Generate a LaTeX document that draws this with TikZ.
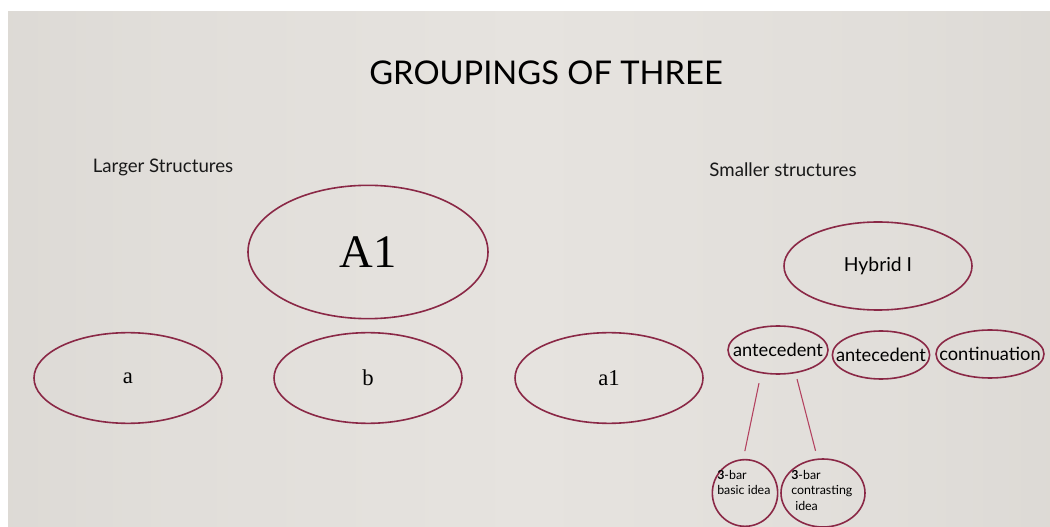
\documentclass[tikz,border=0pt]{standalone}
\usepackage{fontspec}
\setmainfont{Lato}
\newfontfamily\serifnum{Liberation Serif}
\usetikzlibrary{shapes.geometric}
\definecolor{slideedge}{HTML}{CBC8C3}
\definecolor{slidemid}{HTML}{E6E3DF}
\definecolor{ringred}{HTML}{8A2846}
\definecolor{stemred}{HTML}{B3415F}
% soft left-to-right light falloff of the slide
\pgfdeclarehorizontalshading{slidefade}{100bp}{
  color(0bp)=(slideedge);
  color(15bp)=(slideedge!55!slidemid);
  color(32bp)=(slideedge!20!slidemid);
  color(50bp)=(slidemid);
  color(68bp)=(slideedge!20!slidemid);
  color(85bp)=(slideedge!55!slidemid);
  color(100bp)=(slideedge)}
\tikzset{
  ring/.style={ellipse, draw=ringred, line width=1.2pt, inner sep=0pt},
  stem/.style={draw=stemred, line width=0.8pt},
  heading/.style={font=\fontsize{24.5}{28}\selectfont, text=black},
  side/.style={font=\fontsize{14}{17}\selectfont, text=black!90},
  serifbig/.style={font=\serifnum\fontsize{17}{20}\selectfont},
  labtext/.style={font=\fontsize{13.7}{16}\selectfont},
  tinytext/.style={font=\fontsize{9.3}{11.5}\selectfont, align=left, anchor=north west, inner sep=0pt}
}
\begin{document}
\begin{tikzpicture}[x=0.75pt,y=-0.75pt]
\useasboundingbox (0,0) rectangle (1050,527);
% slide background
\fill[white] (0,0) rectangle (1050,527);
\shade[shading=slidefade] (8,12) rectangle (1050,527);

% headings
\node[heading] (title) at (546,73) {GROUPINGS OF THREE};
\node[side] (larger) at (163,167) {Larger Structures};
\node[side] (smaller) at (783,170) {Smaller structures};

% larger structures
\node[ring, minimum width=180pt, minimum height=100pt,
      label={[font=\serifnum\fontsize{35}{40}\selectfont]center:A1}] (A1) at (368,252) {};
\node[ring, minimum width=141pt, minimum height=68pt,
      label={[serifbig]center:a}] (a) at (128,378) {};
\node[ring, minimum width=141pt, minimum height=68pt,
      label={[serifbig]center:b}] (b) at (368,378) {};
\node[ring, minimum width=141pt, minimum height=68pt,
      label={[serifbig]center:a1}] (a1) at (609,378) {};

% smaller structures
\node[ring, minimum width=141pt, minimum height=66pt,
      label={[font=\fontsize{14.5}{17}\selectfont]center:Hybrid I}] (hyb) at (878,266) {};
\node[ring, minimum width=75pt, minimum height=36pt,
      label={[labtext]center:antecedent}] (ant1) at (778,350) {};
\node[ring, minimum width=73pt, minimum height=36pt,
      label={[labtext]center:antecedent}] (ant2) at (881,355) {};
\node[ring, minimum width=81pt, minimum height=36pt,
      label={[labtext]center:continuation}] (cont) at (990,354) {};

\node[ring, minimum width=49pt, minimum height=50pt] (basic) at (745,493) {};
\node[ring, minimum width=63pt, minimum height=51pt] (contr) at (823,493) {};
\node[tinytext] (basicT) at (717,470) {\textbf{3}-bar\\basic idea};
\node[tinytext] (contrT) at (791,470) {\textbf{3}-bar\\contrasting\\\hspace*{3pt}idea};

% stems from the antecedent to its two ideas
\draw[stem, shorten <=7.5pt, shorten >=6pt] (ant1.234) -- (basic.93);
\draw[stem, shorten <=4.5pt, shorten >=6pt] (ant1.307) -- (contr.99);
\end{tikzpicture}
\end{document}
